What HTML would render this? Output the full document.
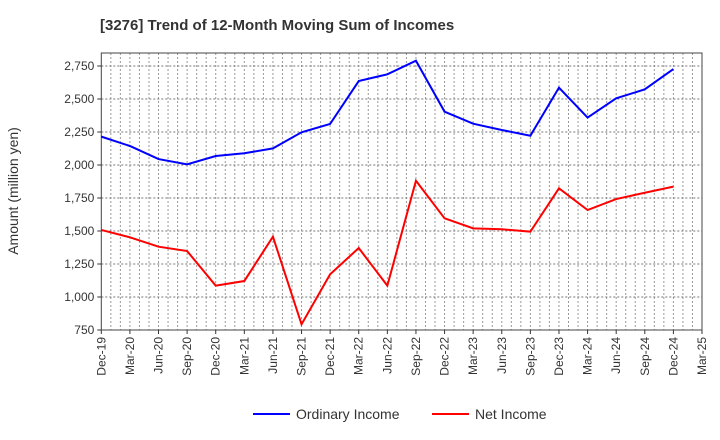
<!DOCTYPE html>
<html><head><meta charset="utf-8"><style>
body{margin:0;background:#fff;}
svg{display:block;font-family:"Liberation Sans",sans-serif;}
</style></head><body>
<svg id="chart" width="720" height="440">
<text x="100" y="30" font-size="15" font-weight="bold" fill="#333">[3276]  Trend of 12-Month Moving Sum of Incomes</text>
<text transform="translate(18,191) rotate(-90)" text-anchor="middle" font-size="14" fill="#333">Amount (million yen)</text>
<g id="grid"></g><g id="axes"></g><g id="series"></g>
<g>
<line x1="253" y1="414" x2="290" y2="414" stroke="#0000ff" stroke-width="2"/>
<text x="296" y="419" font-size="14" fill="#333">Ordinary Income</text>
<line x1="432" y1="414" x2="469" y2="414" stroke="#ff0000" stroke-width="2"/>
<text x="475" y="419" font-size="14" fill="#333">Net Income</text>
</g>
</svg>
<script>
const categories=["Dec-19","Mar-20","Jun-20","Sep-20","Dec-20","Mar-21","Jun-21","Sep-21","Dec-21","Mar-22","Jun-22","Sep-22","Dec-22","Mar-23","Jun-23","Sep-23","Dec-23","Mar-24","Jun-24","Sep-24","Dec-24","Mar-25"];
const ordinaryIncome=[2215,2144,2045,2005,2068,2089,2126,2248,2311,2636,2687,2790,2404,2313,2265,2222,2586,2359,2505,2573,2727];
const netIncome=[1508,1452,1381,1348,1086,1121,1457,793,1172,1371,1086,1881,1596,1520,1513,1495,1823,1659,1742,1790,1836];
const yTicks=[750,1000,1250,1500,1750,2000,2250,2500,2750];
const NS="http://www.w3.org/2000/svg";
const L=101.3,R=702,T=53,B=330;
const step=(R-L)/(categories.length-1);
function xs(i){return L+i*step;}
function ys(v){return 66+(2750-v)/250*33;}
function mk(tag,attrs,parent){const e=document.createElementNS(NS,tag);for(const k in attrs)e.setAttribute(k,attrs[k]);parent.appendChild(e);return e;}
const grid=document.getElementById('grid'),axes=document.getElementById('axes'),ser=document.getElementById('series');
for(let m=1;m<(categories.length-1)*3;m++){const x=L+m*step/3;
const g=mk('line',{x1:x,x2:x,y1:T,y2:B,stroke:'#999','stroke-dasharray':'2,2','stroke-width':1},grid);

}
yTicks.forEach(v=>{const y=ys(v);
const g=mk('line',{x1:L,x2:R,y1:y,y2:y,stroke:'#777','stroke-dasharray':'2,2','stroke-width':1},grid);


mk('line',{x1:L-4,x2:L,y1:y,y2:y,stroke:'#333'},axes);
const t=mk('text',{x:L-7,y:y+4,'text-anchor':'end','font-size':12,fill:'#333'},axes);t.textContent=v.toLocaleString('en-US');

});
categories.forEach((c,i)=>{const x=xs(i);
mk('line',{x1:x,x2:x,y1:B,y2:B+4,stroke:'#333'},axes);
const t=mk('text',{transform:`translate(${x+4},${B+7}) rotate(-90)`,'text-anchor':'end','font-size':12,fill:'#333'},axes);t.textContent=c;

});
const fr=mk('rect',{x:L,y:T,width:R-L,height:B-T,fill:'none',stroke:'#444','stroke-width':1},axes);


function line(data,color,name){const p=mk('polyline',{points:data.map((v,i)=>xs(i)+','+ys(v)).join(' '),fill:'none',stroke:color,'stroke-width':2},ser);

}
line(ordinaryIncome,'#0000ff','ordinary-income-line');
line(netIncome,'#ff0000','net-income-line');
</script>
</body></html>
